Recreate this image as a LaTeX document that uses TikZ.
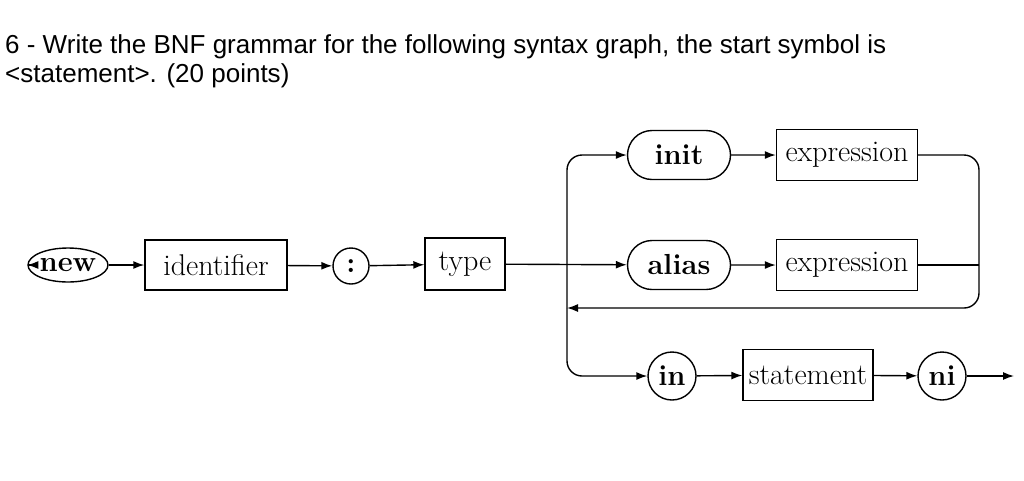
\documentclass[tikz,border=0pt]{standalone}
\usepackage{fontspec}
\newfontfamily\titlefont{Liberation Sans}
\usetikzlibrary{arrows.meta,shapes.geometric,shapes.misc}
\begin{document}
\begin{tikzpicture}[x=1pt,y=-1pt,
  lbl/.style={font=\fontsize{30}{32}\selectfont},
  kw/.style={font=\fontsize{29}{32}\selectfont\bfseries},
  boxn/.style={draw,line width=1.4pt,rectangle,lbl,inner sep=0pt},
  stad/.style={draw,line width=1.4pt,rounded rectangle,kw,inner sep=0pt},
  circ/.style={draw,line width=1.4pt,circle,kw,inner sep=0pt},
  ell/.style={draw,line width=1.4pt,ellipse,kw,inner sep=0pt},
  conn/.style={line width=1.4pt,-{Latex[length=11pt,width=8pt]}},
  line/.style={line width=1.4pt},
  rc/.style={rounded corners=15pt}]
\useasboundingbox (0,0) rectangle (1024,480);
\node[anchor=base west,font=\titlefont\fontsize{26}{30}\selectfont,inner sep=0pt] (title) at (5,53) {6 - Write the BNF grammar for the following syntax graph, the start symbol is};
\node[anchor=base west,font=\titlefont\fontsize{26}{30}\selectfont,inner sep=0pt] (title2) at (5,82) {<statement>. (20 points)};
\node[ell,minimum width=60pt,minimum height=34pt] (new) at (68,265) {new};
\node[boxn,minimum width=142pt,minimum height=50pt] (id) at (216,265) {identifier};
\node[circ,minimum size=36pt] (colon) at (351,266) {:};
\node[boxn,minimum width=80pt,minimum height=52pt] (type) at (465,264) {type};
\node[stad,minimum width=103pt,minimum height=49pt] (init) at (679,155) {init};
\node[boxn,minimum width=141pt,minimum height=51pt] (e1) at (847,155) {expression};
\node[stad,minimum width=103pt,minimum height=49pt] (alias) at (679,265) {alias};
\node[boxn,minimum width=141pt,minimum height=51pt] (e2) at (847,265) {expression};
\node[circ,minimum size=48pt] (in) at (672,376) {in};
\node[boxn,minimum width=130pt,minimum height=51pt] (st) at (808,375) {statement};
\node[circ,minimum size=48pt] (ni) at (942,376) {ni};
\coordinate (start) at (28,265);
\coordinate (end) at (1014,376);
\coordinate (ret) at (567,308);
\draw[conn] (start) -- (new);
\draw[conn] (new) -- (id);
\draw[conn] (id) -- (colon);
\draw[conn] (colon) -- (type);
\draw[conn] (type) -- (alias);
\draw[conn,rc] (ret) -- (567,155) -- (init);
\draw[conn,rc] (ret) -- (567,376) -- (in);
\draw[conn] (init) -- (e1);
\draw[conn] (alias) -- (e2);
\draw[conn] (in) -- (st);
\draw[conn] (st) -- (ni);
\draw[conn] (ni) -- (end);
\draw[conn,rc] (e1.east) -- (979,155) -- (979,308) -- (ret);
\draw[line] (e2.east) -- (979,265);
\end{tikzpicture}
\end{document}
